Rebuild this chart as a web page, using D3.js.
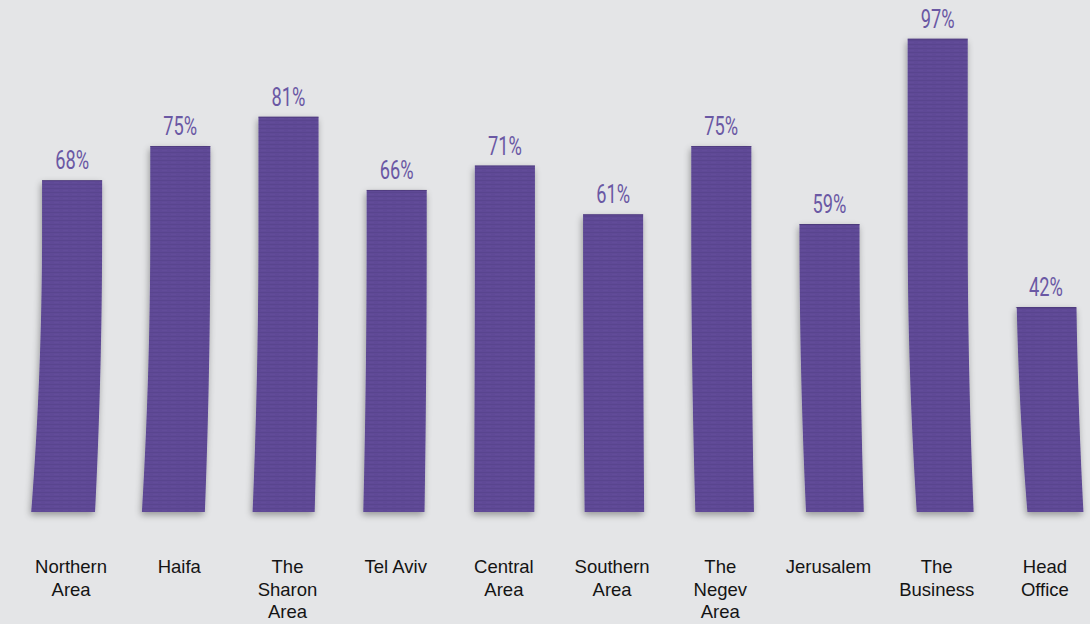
<!DOCTYPE html>
<html>
<head>
<meta charset="utf-8">
<script src="https://cdn.jsdelivr.net/npm/d3@7"></script>
<style>
  html, body { margin: 0; padding: 0; background: #e4e5e7; }
  svg { display: block; }
</style>
</head>
<body>
<svg id="chart" width="1090" height="624"></svg>
<script>
// Share of staff per area (percent)
const categories = [
  ["Northern", "Area"],
  ["Haifa"],
  ["The", "Sharon", "Area"],
  ["Tel Aviv"],
  ["Central", "Area"],
  ["Southern", "Area"],
  ["The", "Negev", "Area"],
  ["Jerusalem"],
  ["The", "Business"],
  ["Head", "Office"]
];
const values = [68, 75, 81, 66, 71, 61, 75, 59, 97, 42];
const valueLabels = ["68%", "75%", "81%", "66%", "71%", "61%", "75%", "59%", "97%", "42%"];

const W = 1090, H = 624;
const baseY = 512;
const midX = 545;
const barColor = "#5f4a96";
const labelColor = "#6a58a4";

const svg = d3.select("#chart");
svg.append("rect").attr("width", W).attr("height", H).attr("fill", "#e4e5e7");

const defs = svg.append("defs");
const shadow = defs.append("filter").attr("id", "shadow")
  .attr("x", "-30%").attr("y", "-10%").attr("width", "160%").attr("height", "125%");
shadow.append("feGaussianBlur").attr("in", "SourceAlpha").attr("stdDeviation", 3.5).attr("result", "b");
shadow.append("feOffset").attr("in", "b").attr("dx", -1).attr("dy", 3).attr("result", "o");
shadow.append("feComponentTransfer").attr("in", "o").attr("result", "s")
  .append("feFuncA").attr("type", "linear").attr("slope", 0.35);
const merge = shadow.append("feMerge");
merge.append("feMergeNode").attr("in", "s");
merge.append("feMergeNode").attr("in", "SourceGraphic");

// faint woven texture on the strips
const tex = defs.append("pattern").attr("id", "tex")
  .attr("patternUnits", "userSpaceOnUse").attr("width", 9).attr("height", 4);
tex.append("rect").attr("x", 0).attr("y", 0).attr("width", 9).attr("height", 0.8)
  .attr("fill", "#2e2050").attr("opacity", 0.14);
tex.append("rect").attr("x", 0).attr("y", 2).attr("width", 5).attr("height", 0.6)
  .attr("fill", "#8a76c0").attr("opacity", 0.10);

const x = d3.scaleBand()
  .domain(d3.range(categories.length))
  .range([18, 1100])
  .paddingInner(0.445)
  .paddingOuter(0.2225);

const y = d3.scaleLinear().domain([0, 100]).range([baseY, 24]);

// strips curl slightly outward toward their lower ends
function bend(cx, yy) {
  const t = Math.max(0, Math.min(1, (yy - 230) / (baseY - 230)));
  return (cx - midX) * 0.02 * t * t;
}

function stripPath(i) {
  const x0 = x(i), w = x.bandwidth(), cx = x0 + w / 2;
  const top = y(values[i]);
  const ys = d3.range(0, 41).map(k => top + (baseY - top) * k / 40);
  const left = ys.map(yy => [x0 + bend(cx, yy) * 1.15, yy]);
  const right = ys.slice().reverse().map(yy => [x0 + w + bend(cx, yy) * 0.75, yy]);
  return "M" + left.concat(right).map(p => p[0].toFixed(2) + "," + p[1].toFixed(2)).join("L") + "Z";
}

const bars = svg.append("g");
bars.selectAll("path.bar")
  .data(values)
  .join("path")
  .attr("class", "bar")
  .attr("d", (d, i) => stripPath(i))
  .attr("fill", barColor)
  .attr("filter", "url(#shadow)");

bars.selectAll("path.tex")
  .data(values)
  .join("path")
  .attr("class", "tex")
  .attr("d", (d, i) => stripPath(i))
  .attr("fill", "url(#tex)");

bars.selectAll("line.edge")
  .data(values)
  .join("line")
  .attr("class", "edge")
  .attr("x1", (d, i) => x(i))
  .attr("x2", (d, i) => x(i) + x.bandwidth())
  .attr("y1", d => y(d) + 0.5)
  .attr("y2", d => y(d) + 0.5)
  .attr("stroke", "#3f3068")
  .attr("stroke-opacity", 0.5)
  .attr("stroke-width", 1);

// value labels in a narrow face
svg.append("g").selectAll("text")
  .data(values)
  .join("text")
  .attr("transform", (d, i) => `translate(${x(i) + x.bandwidth() / 2},${y(d) - 11}) scale(0.73,1)`)
  .attr("text-anchor", "middle")
  .attr("font-family", "Roboto, 'Liberation Sans', sans-serif")
  .attr("font-size", 25)
  .attr("font-weight", 400)
  .attr("fill", labelColor)
  .text((d, i) => valueLabels[i]);

// category names
const cat = svg.append("g").selectAll("text")
  .data(categories)
  .join("text")
  .attr("x", (d, i) => x(i) + x.bandwidth() / 2 - 1)
  .attr("y", 573)
  .attr("text-anchor", "middle")
  .attr("font-family", "'Liberation Sans', Arial, sans-serif")
  .attr("font-size", 18.5)
  .attr("fill", "#141414");
cat.selectAll("tspan")
  .data(d => d)
  .join("tspan")
  .attr("x", function () { return this.parentNode.getAttribute("x"); })
  .attr("dy", (d, j) => j === 0 ? 0 : 22.5)
  .text(d => d);
</script>
</body>
</html>
